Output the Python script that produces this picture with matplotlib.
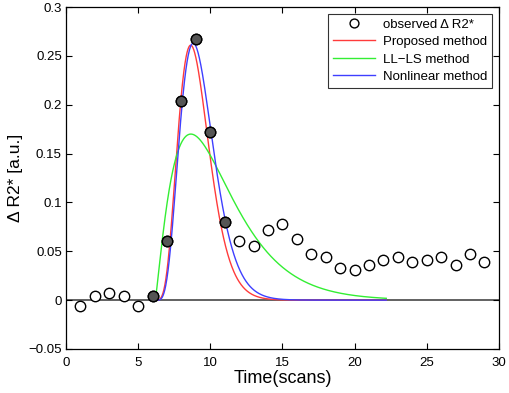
import numpy as np
import matplotlib
matplotlib.use("Agg")
import matplotlib.pyplot as plt

plt.rcParams['font.family'] = ['Liberation Sans', 'DejaVu Sans']

# observed data
t_obs = [1, 2, 3, 4, 5, 6, 7, 8, 9, 10, 11, 12, 13, 14, 15, 16, 17, 18, 19, 20,
         21, 22, 23, 24, 25, 26, 27, 28, 29]
dr2_obs = [-0.006, 0.004, 0.007, 0.004, -0.006, 0.004, 0.061, 0.204, 0.267, 0.172,
           0.080, 0.061, 0.055, 0.072, 0.078, 0.063, 0.047, 0.044, 0.033, 0.031,
           0.036, 0.041, 0.044, 0.039, 0.041, 0.044, 0.036, 0.047, 0.039]
# points used in the fit (filled)
fit_scans = [6, 7, 8, 9, 10, 11]

# gamma-variate fit parameters: [t0, peak value, alpha, beta]
proposed_params = [6.1, 0.261, 5.5, 0.4625]
llls_params = [6.18, 0.170, 1.25, 1.98]
nonlinear_params = [6.2, 0.263, 5.0, 0.524]
t_end = 22.2

def gamma_variate(t, p):
    t0, peak, a, b = p
    s = np.clip(t - t0, 0, None)
    sm = a * b
    return peak * (s / sm) ** a * np.exp(-(s - sm) / b)

t = np.linspace(6.0, t_end, 800)

fig = plt.figure(figsize=(5.10, 3.93), dpi=100)
ax = fig.add_axes([0.1294, 0.112, 0.8486, 0.870])

ax.axhline(0, color='#555555', lw=1.3, zorder=1)
ax.plot(t, gamma_variate(t, proposed_params), color='#ff3b3b', lw=1.0, label='Proposed method', zorder=3)
ax.plot(t, gamma_variate(t, llls_params), color='#33ee33', lw=1.0, label='LL\u2212LS method', zorder=3)
ax.plot(t, gamma_variate(t, nonlinear_params), color='#3f3fff', lw=1.0, label='Nonlinear method', zorder=3)

ax.plot(t_obs, dr2_obs, 'o', mfc='white', mec='black', ms=7.5, mew=1.0,
        label='observed \u0394 R2*', zorder=4)
fx = [x for x in t_obs if x in fit_scans]
fy = [y for x, y in zip(t_obs, dr2_obs) if x in fit_scans]
ax.plot(fx, fy, 'o', mfc='#555555', mec='black', ms=7.5, mew=1.0, zorder=5)

ax.set_xlim(0, 30)
ax.set_ylim(-0.05, 0.3)
ax.set_xticks([0, 5, 10, 15, 20, 25, 30])
ax.set_yticks([-0.05, 0, 0.05, 0.1, 0.15, 0.2, 0.25, 0.3])
ax.set_yticklabels(['\u22120.05', '0', '0.05', '0.1', '0.15', '0.2', '0.25', '0.3'])
ax.tick_params(direction='in', top=True, right=True, labelsize=9.5, length=4, width=0.8)
ax.tick_params(axis='x', pad=5.5)
ax.tick_params(axis='y', pad=3)
for sp in ax.spines.values():
    sp.set_linewidth(0.9)

ax.set_xlabel('Time(scans)', fontsize=13, labelpad=1)
ax.set_ylabel('\u0394 R2* [a.u.]', fontsize=12.5, labelpad=4)

h, l = ax.get_legend_handles_labels()
order = [3, 0, 1, 2]
leg = ax.legend([h[i] for i in order], [l[i] for i in order], loc='upper right',
                fontsize=9.5, frameon=True, fancybox=False, edgecolor='black',
                borderaxespad=0.5, handlelength=3.2, labelspacing=0.4,
                borderpad=0.35, handletextpad=0.6, markerscale=0.85)
leg.get_frame().set_linewidth(0.8)

fig.savefig('out.png', dpi=100)
